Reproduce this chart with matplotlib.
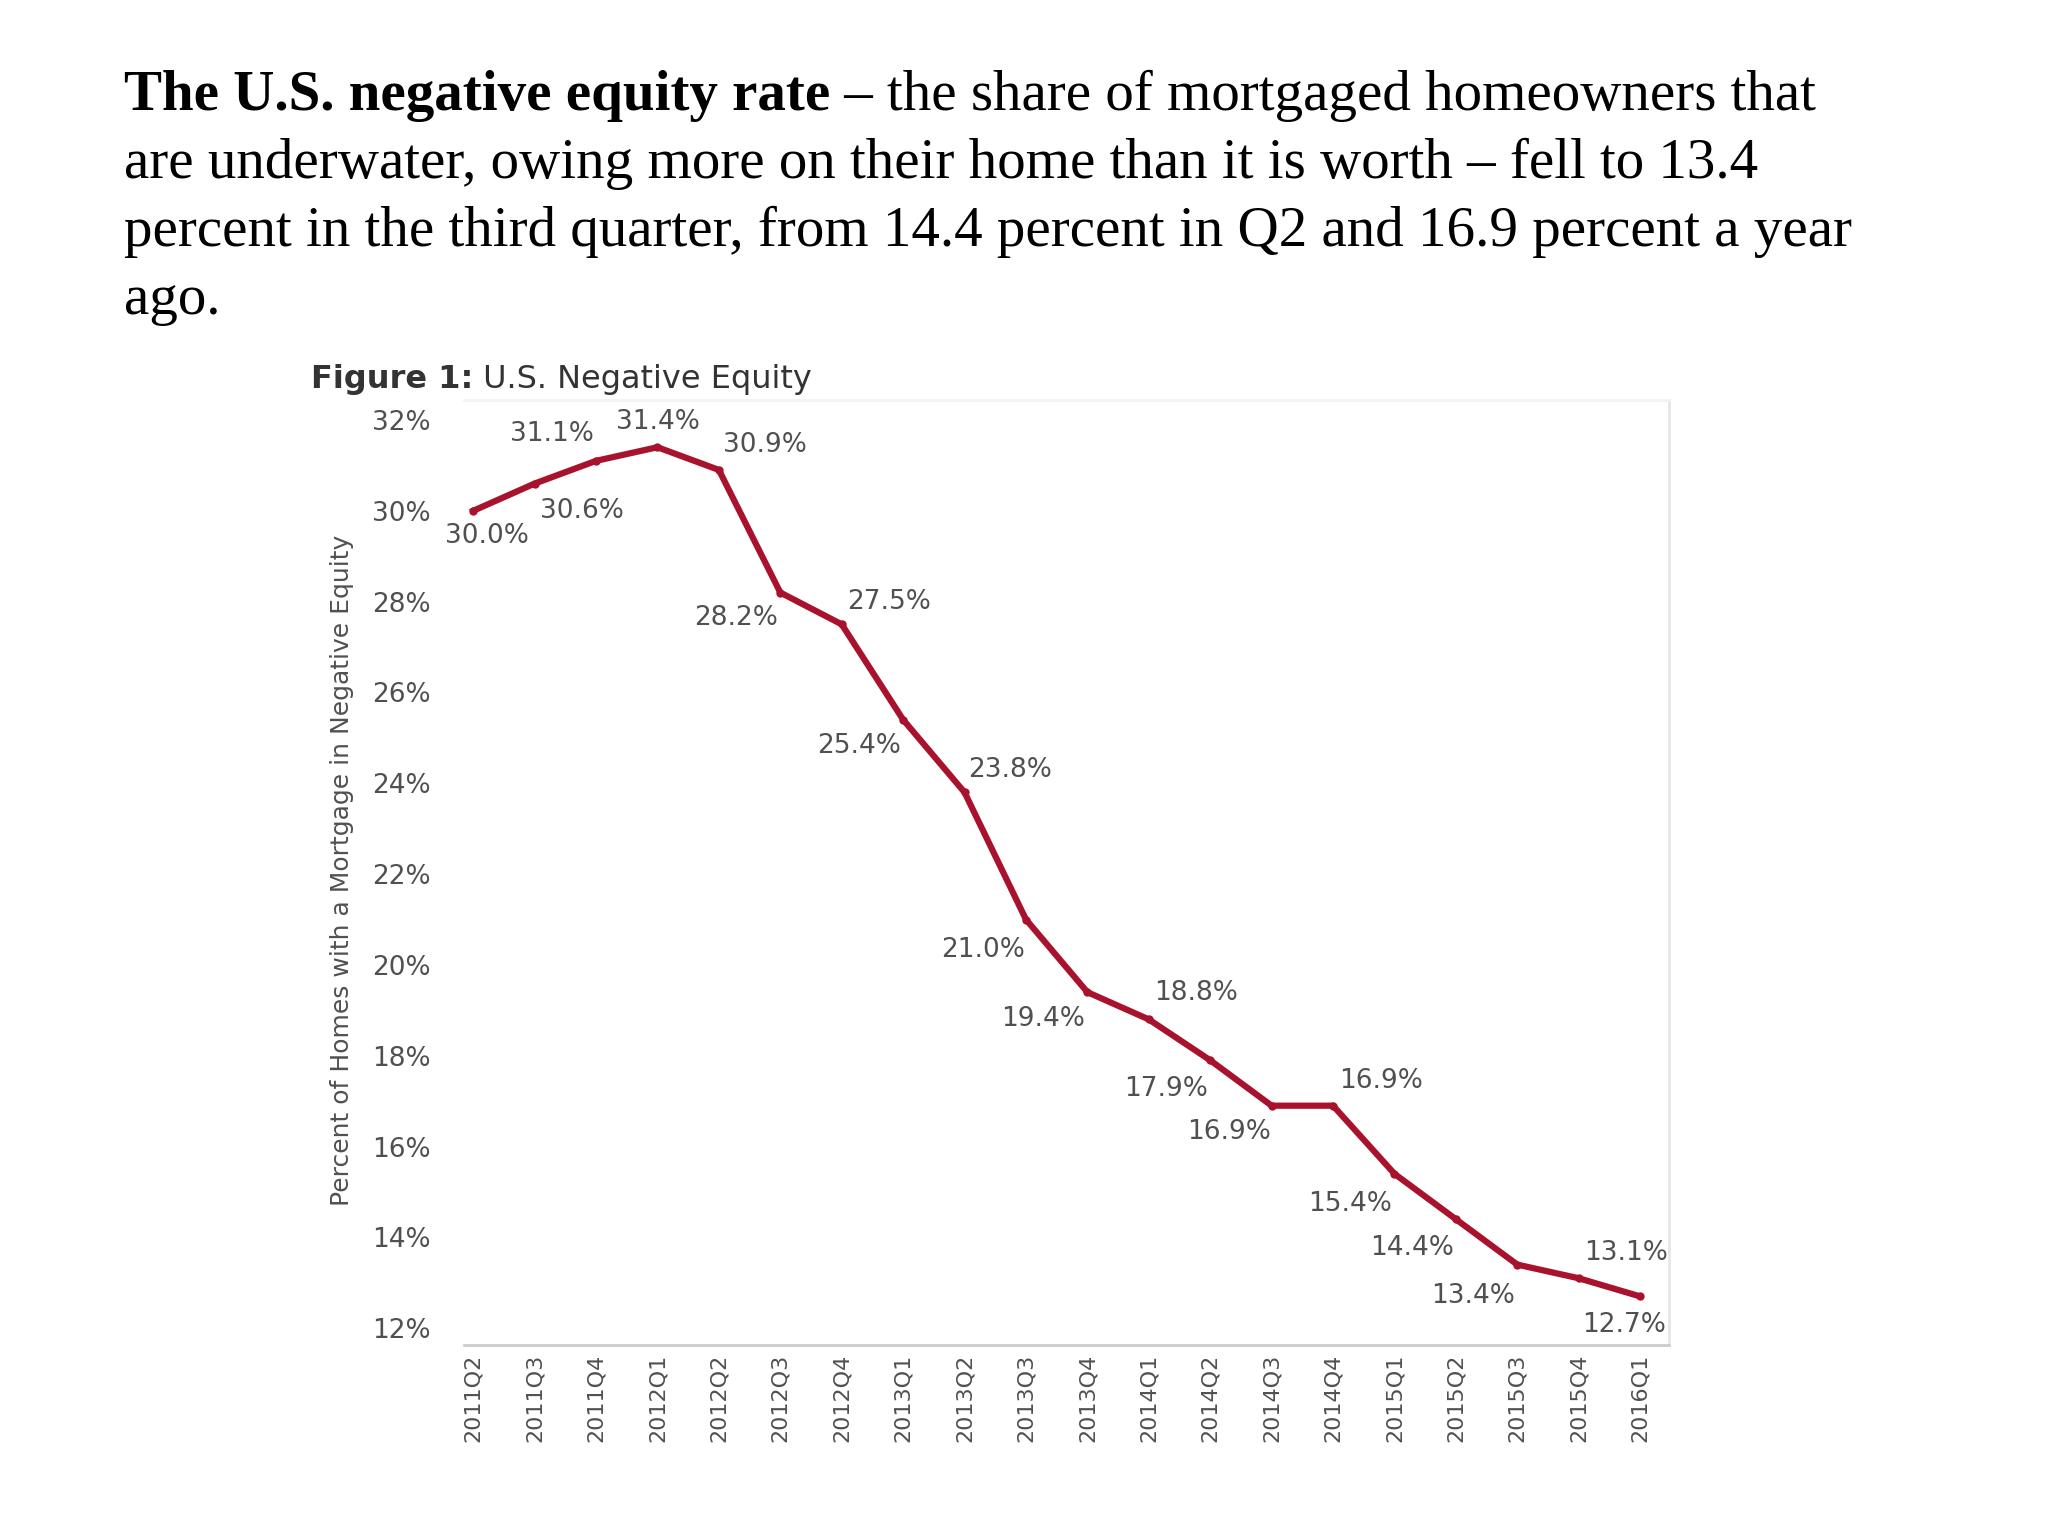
import numpy as np
import matplotlib.pyplot as plt

# data
quarters = ['2011Q2', '2011Q3', '2011Q4', '2012Q1', '2012Q2', '2012Q3', '2012Q4',
            '2013Q1', '2013Q2', '2013Q3', '2013Q4', '2014Q1', '2014Q2', '2014Q3',
            '2014Q4', '2015Q1', '2015Q2', '2015Q3', '2015Q4', '2016Q1']
neg_equity = [30.0, 30.6, 31.1, 31.4, 30.9, 28.2, 27.5, 25.4, 23.8, 21.0,
              19.4, 18.8, 17.9, 16.9, 16.9, 15.4, 14.4, 13.4, 13.1, 12.7]
y_ticks = [12, 14, 16, 18, 20, 22, 24, 26, 28, 30, 32]

# label offsets (pixels) for each point label
label_offsets = [(14, -25), (47, -27), (-44, 27), (0, 25), (46, 25), (-44, -25),
                 (47, 22), (-44, -26), (46, 22), (-43, -30), (-44, -27), (47, 26),
                 (-44, -29), (-43, -26), (48, 25), (-44, -30), (-44, -29),
                 (-44, -31), (47, 25), (-16, -29)]

RED = '#a8122c'
GREY = '#505050'
chart_font = 'DejaVu Sans'

fig = plt.figure(figsize=(20.48, 15.36), dpi=100)
ax = fig.add_axes([464 / 2048, 1 - 1345 / 1536, 1205 / 2048, 945 / 1536])

x = np.arange(len(quarters))
ax.plot(x, neg_equity, color=RED, lw=4.5, marker='o', ms=5, solid_joinstyle='round')

for i, v in enumerate(neg_equity):
    dx, dy = label_offsets[i]
    ax.annotate(f'{v:.1f}%', (x[i], v), xytext=(dx, dy), textcoords='offset pixels',
                ha='center', va='center', fontsize=19, color=GREY, family=chart_font)

ax.set_xlim(-0.15, 19.47)
ax.set_ylim(11.63, 32.44)
ax.set_xticks(x)
ax.set_xticklabels(quarters, rotation=90, fontsize=16, color=GREY, family=chart_font)
ax.set_yticks(y_ticks)
ax.set_yticklabels([f'{t}%' for t in y_ticks], fontsize=19, color=GREY, family=chart_font)
ax.tick_params(axis='x', length=0, pad=6)
ax.tick_params(axis='y', length=0, pad=24)

ax.spines['left'].set_visible(False)
ax.spines['top'].set_color('#f2f2f2')
ax.spines['right'].set_color('#e6e6e6')
ax.spines['bottom'].set_color('#cccccc')
for s in ['top', 'right', 'bottom']:
    ax.spines[s].set_linewidth(2)

fig.text(342 / 2048, 1 - 870 / 1536, 'Percent of Homes with a Mortgage in Negative Equity',
         rotation=90, ha='center', va='center', fontsize=18, color=GREY, family=chart_font)

# header of the embedded figure: bold part + normal part
fig.canvas.draw()
renderer = fig.canvas.get_renderer()
h1 = fig.text(311 / 2048, 1 - 388 / 1536, 'Figure 1:', fontsize=23, fontweight='bold',
              color='#333333', family=chart_font, va='baseline')
bb = h1.get_window_extent(renderer)
fig.text(bb.x1 / 2048, 1 - 388 / 1536, ' U.S. Negative Equity', fontsize=23,
         color='#333333', family=chart_font, va='baseline')

# paragraph above the chart
serif = 'Liberation Serif'
base_y = [110, 178, 246, 314]
t1 = fig.text(124 / 2048, 1 - base_y[0] / 1536, 'The U.S. negative equity rate',
              fontsize=41, fontweight='bold', family=serif, va='baseline')
bb = t1.get_window_extent(renderer)
fig.text(bb.x1 / 2048, 1 - base_y[0] / 1536,
         ' \u2013 the share of mortgaged homeowners that',
         fontsize=41, family=serif, va='baseline')
rest = ['are underwater, owing more on their home than it is worth \u2013 fell to 13.4',
        'percent in the third quarter, from 14.4 percent in Q2 and 16.9 percent a year',
        'ago.']
for line, yb in zip(rest, base_y[1:]):
    fig.text(124 / 2048, 1 - yb / 1536, line, fontsize=41, family=serif, va='baseline')

fig.savefig('out.png', dpi=100, facecolor='white')
